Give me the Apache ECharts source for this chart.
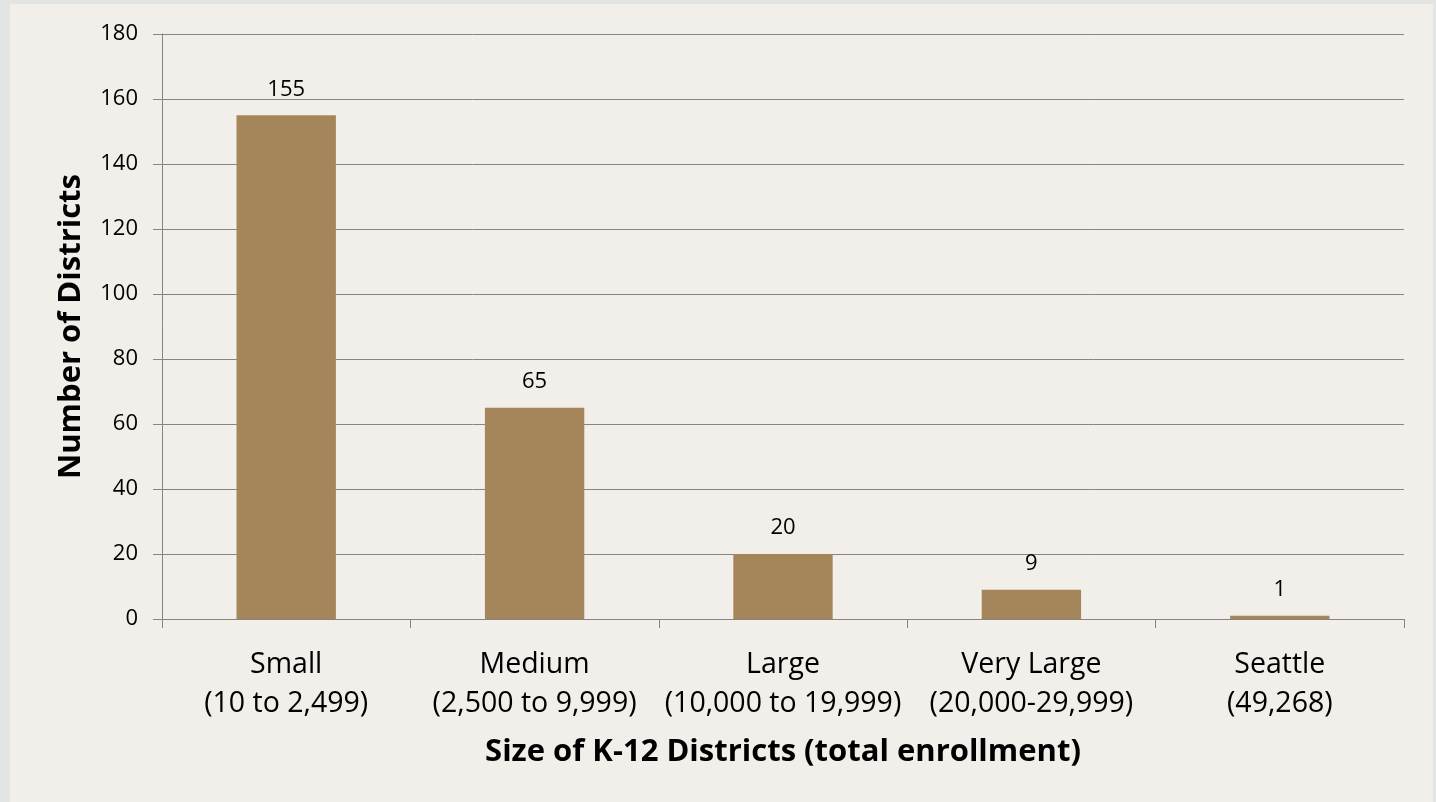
<!DOCTYPE html>
<html>
<head>
<meta charset="utf-8">
<script src="https://cdn.jsdelivr.net/npm/echarts@6/dist/echarts.min.js"></script>
<style>
  html, body { margin: 0; padding: 0; width: 1436px; height: 802px; background: #e3e5e5; overflow: hidden; }
  #bg { position: absolute; left: 10px; top: 4px; width: 1423px; height: 798px; background: #f2eee9; }
  #chart { position: absolute; left: 0; top: 0; width: 1436px; height: 802px; }
</style>
</head>
<body>
<div id="bg"></div>
<div id="chart"></div>
<script>
const sizeNames = ['Small', 'Medium', 'Large', 'Very Large', 'Seattle'];
const sizeRanges = ['(10 to 2,499)', '(2,500 to 9,999)', '(10,000 to 19,999)', '(20,000-29,999)', '(49,268)'];
const districtCounts = [155, 65, 20, 9, 1];
const yAxisTitle = 'Number of Districts';
const xAxisTitle = 'Size of K-12 Districts (total enrollment)';

const categories = sizeNames.map((n, i) => n + '\n' + sizeRanges[i]);
const FONT = '"Open Sans", sans-serif';
const lineCol = '#858585';

const chart = echarts.init(document.getElementById('chart'), null, { renderer: 'canvas' });
chart.setOption({
  backgroundColor: 'transparent',
  animation: false,
  grid: { left: 162, right: 32, top: 34, bottom: 183, containLabel: false },
  xAxis: {
    type: 'category',
    data: categories,
    boundaryGap: true,
    axisLine: { show: true, lineStyle: { color: lineCol, width: 1 } },
    axisTick: { show: true, length: 9, inside: false, lineStyle: { color: lineCol } },
    axisLabel: {
      color: '#000', fontFamily: FONT, fontSize: 28.5, lineHeight: 39, margin: 26, interval: 0
    },
    name: xAxisTitle,
    nameLocation: 'middle',
    nameGap: 118,
    nameTextStyle: { color: '#000', fontFamily: FONT, fontSize: 31, fontWeight: 'bold' }
  },
  yAxis: {
    type: 'value',
    min: 0, max: 180, interval: 20,
    axisLine: { show: true, lineStyle: { color: lineCol, width: 1 } },
    axisTick: { show: true, length: 9, inside: false, lineStyle: { color: lineCol } },
    splitLine: { show: true, lineStyle: { color: lineCol, width: 1 } },
    axisLabel: { color: '#000', fontFamily: FONT, fontSize: 22, margin: 24 },
    name: yAxisTitle,
    nameLocation: 'middle',
    nameGap: 75,
    nameRotate: 90,
    nameTextStyle: { color: '#000', fontFamily: FONT, fontSize: 31, fontWeight: 'bold' }
  },
  series: [{
    type: 'bar',
    data: districtCounts,
    barWidth: '40%',
    itemStyle: { color: '#a5865a' },
    label: {
      show: true, position: 'top', distance: 15,
      color: '#000', fontFamily: FONT, fontSize: 22
    }
  }]
});
</script>
</body>
</html>
